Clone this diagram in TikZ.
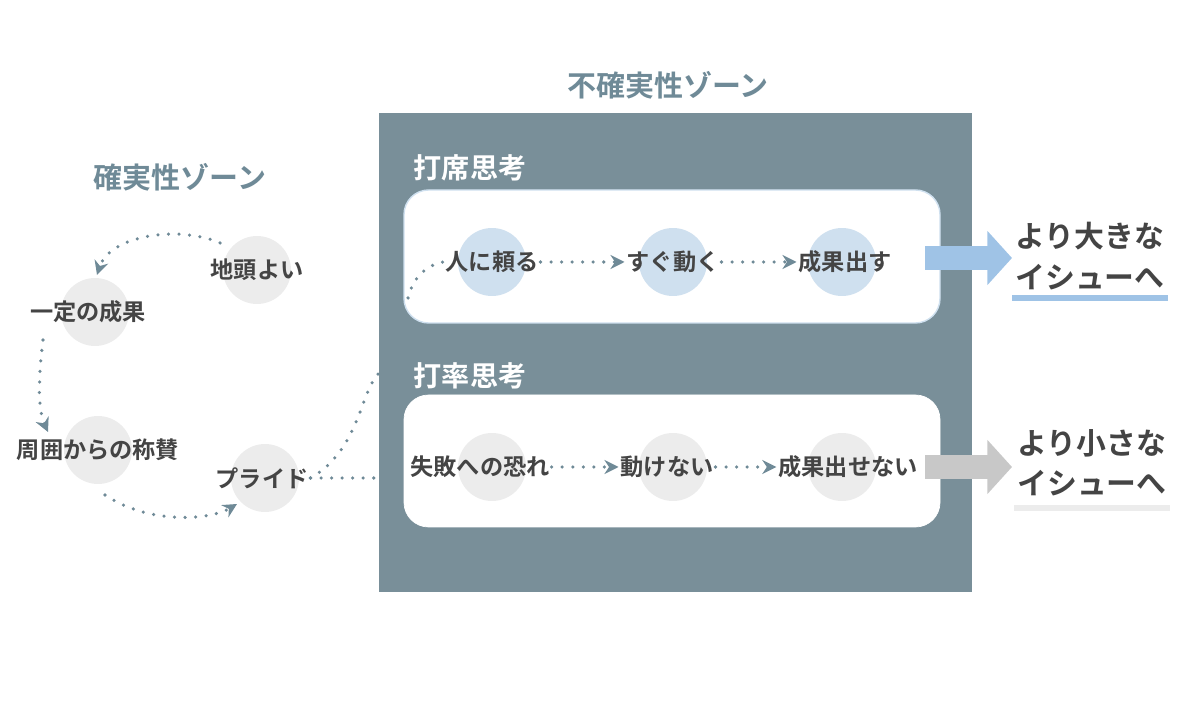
\documentclass[tikz,border=0pt]{standalone}
\usepackage{fontspec}
\setmainfont{Noto Sans CJK JP}[BoldFont={Noto Sans CJK JP Bold}]
\usetikzlibrary{positioning,arrows.meta}
\definecolor{slate}{HTML}{798F99}
\definecolor{ttl}{HTML}{6F8A97}
\definecolor{txt}{HTML}{444444}
\definecolor{lblue}{HTML}{CFE0EF}
\definecolor{bblue}{HTML}{9FC3E6}
\definecolor{lgray}{HTML}{ECECEC}
\definecolor{bgray}{HTML}{C8C8C8}
\definecolor{dotc}{HTML}{6F8A97}
\tikzset{
  dot/.style={circle,minimum size=1.36cm,inner sep=0pt},
  lbl/.style={text=txt,font=\bfseries\fontsize{13.2}{15}\selectfont,inner sep=1pt},
  zone/.style={text=ttl,font=\bfseries\fontsize{16.5}{19}\selectfont},
  sect/.style={text=white,font=\bfseries\fontsize{16}{19}\selectfont},
  flow/.style={dotc,line width=2pt,dash pattern=on 0pt off 6pt,line cap=round},
  tip/.style={-{Stealth[length=8pt,width=8pt]}},
  big/.style={text=txt,font=\bfseries\fontsize{17}{23}\selectfont,align=left}
}
\begin{document}
\begin{tikzpicture}[x=0.02cm,y=-0.02cm]
\useasboundingbox (0,0) rectangle (1200,715);
% uncertain zone
\node[zone] (utitle) at (668,85) {不確実性ゾーン};
\fill[slate] (379,113) rectangle (972,592);
\node[sect] (s1) at (470,168) {打席思考};
\draw[white,fill=white,rounded corners=14pt,draw=lblue,line width=0.8pt] (404,190) rectangle (940,323);
\node[sect] (s2) at (470,376) {打率思考};
\draw[white,fill=white,rounded corners=14pt] (404,395) rectangle (940,527);
\foreach \x/\n in {492/a,673/b,842/c}{
  \node[dot,fill=lblue] (u\n) at (\x,262) {};
  \node[dot,fill=lgray] (d\n) at (\x,467) {};
}
\node[lbl] (ta) at (492,262) {人に頼る};
\node[lbl] (tb) at (673,262) {すぐ動く};
\node[lbl] (tc) at (845,262) {成果出す};
\node[lbl] (ba) at (480,467) {失敗への恐れ};
\node[lbl] (bb) at (667,467) {動けない};
\node[lbl] (bc) at (848,467) {成果出せない};
\draw[flow,tip] (ta) -- (tb);
\draw[flow,tip] (tb) -- (tc);
\draw[flow,tip] (ba) -- (bb);
\draw[flow,tip] (bb) -- (bc);
% outcome arrows
\coordinate (g1) at (925,258); \coordinate (g2) at (1012,258);
\coordinate (h1) at (925,467); \coordinate (h2) at (1012,467);
\draw[bblue,line width=14pt,-{Triangle[length=14pt,width=30pt]}] (g1) -- (g2);
\draw[bgray,line width=14pt,-{Triangle[length=14pt,width=30pt]}] (h1) -- (h2);
\node[big] (r1) at (1090,256) {より大きな\\イシューへ};
\node[big] (r2) at (1092,463) {より小さな\\イシューへ};
\draw[bblue,line width=3pt] (1012,298) -- (1168,298);
\draw[lgray,line width=3pt] (1014,508) -- (1170,508);
% certain zone
\node[zone] (ctitle) at (180,177) {確実性ゾーン};
\node[dot,fill=lgray] (c1) at (257,270) {};
\node[dot,fill=lgray] (c2) at (95,312) {};
\node[dot,fill=lgray] (c3) at (98,450) {};
\node[dot,fill=lgray] (c4) at (265,478) {};
\node[lbl] (k1) at (257,270) {地頭よい};
\node[lbl] (k2) at (88,312) {一定の成果};
\node[lbl] (k3) at (98,450) {周囲からの称賛};
\node[lbl] (k4) at (262,478) {プライド};
\draw[flow,tip] (220,243) .. controls (180,225) and (110,235) .. (97,275);
\draw[flow,tip] (43,340) .. controls (38,380) and (38,410) .. (48,432);
\draw[flow,tip] (105,495) .. controls (150,525) and (210,520) .. (237,504);
\draw[flow] (k4.east) -- (378,478);
\draw[flow] (k4.east) .. controls (360,450) and (360,390) .. (380,372);
\draw[flow] (408,298) .. controls (412,280) and (425,265) .. (ta.west);
\end{tikzpicture}
\end{document}
